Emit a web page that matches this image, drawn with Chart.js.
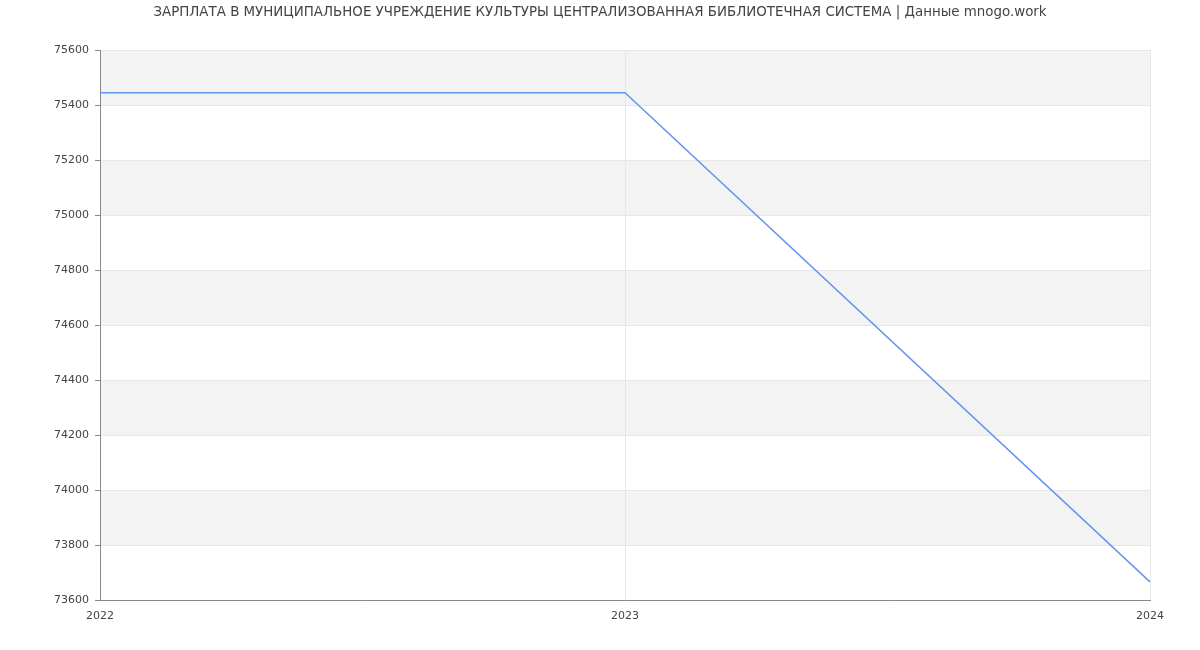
<!DOCTYPE html>
<html><head><meta charset="utf-8">
<script src="https://cdn.jsdelivr.net/npm/chart.js@4/dist/chart.umd.min.js"></script>
<style>html,body{margin:0;padding:0;background:#fff}#w{width:1200px;height:650px}</style>
</head><body><div id="w"><canvas id="c"></canvas></div>
<script>
const years = ["2022", "2023", "2024"];
const salary = [75445, 75445, 73666];
const yTicks = [73600, 73800, 74000, 74200, 74400, 74600, 74800, 75000, 75200, 75400, 75600];
const titleText = "ЗАРПЛАТА В МУНИЦИПАЛЬНОЕ УЧРЕЖДЕНИЕ КУЛЬТУРЫ ЦЕНТРАЛИЗОВАННАЯ БИБЛИОТЕЧНАЯ СИСТЕМА | Данные mnogo.work";

const bands = {
  id: 'bands',
  beforeDraw(chart) {
    const {ctx, chartArea: a, scales: {y}} = chart;
    ctx.save();
    ctx.fillStyle = '#f3f3f3';
    const top = yTicks[yTicks.length - 1];
    for (let i = yTicks.length - 1; i > 0; i--) {
      const hi = yTicks[i], lo = yTicks[i - 1];
      if (((top - hi) / 200) % 2 === 0) {
        const y1 = y.getPixelForValue(hi), y2 = y.getPixelForValue(lo);
        ctx.fillRect(a.left, y1, a.right - a.left, y2 - y1);
      }
    }
    ctx.restore();
  }
};

new Chart(document.getElementById('c'), {
  type: 'line',
  data: { labels: years, datasets: [{ data: salary, borderColor: '#6495ed', borderWidth: 1.5, pointRadius: 0, tension: 0, fill: false }] },
  options: {
    responsive: true, maintainAspectRatio: false, animation: false,
    layout: { padding: 0 },
    plugins: {
      legend: { display: false }, tooltip: { enabled: false },
      title: { display: true, text: titleText, color: '#444', font: { family: 'DejaVu Sans', size: 13.4, weight: 'normal' }, padding: { top: 4, bottom: 30 } }
    },
    scales: {
      x: {
        grid: { color: '#e6e6e6', drawTicks: false },
        border: { color: '#888' },
        ticks: { color: '#444', font: { family: 'DejaVu Sans', size: 11 }, padding: 10, maxRotation: 0 },
        afterFit(s) { s.height = 50; }
      },
      y: {
        min: 73600, max: 75600,
        afterBuildTicks(s) { s.ticks = yTicks.map(v => ({ value: v })); },
        grid: { color: '#e6e6e6', tickColor: '#888', tickLength: 5 },
        border: { color: '#888' },
        ticks: { color: '#444', font: { family: 'DejaVu Sans', size: 11 }, padding: 6, callback: v => String(v) },
        afterFit(s) { s.width = 100; }
      },
      yRight: {
        position: 'right', min: 73600, max: 75600,
        grid: { display: false, drawTicks: false },
        border: { display: false },
        ticks: { display: false },
        afterFit(s) { s.width = 50; }
      }
    }
  },
  plugins: [bands]
});
</script></body></html>
